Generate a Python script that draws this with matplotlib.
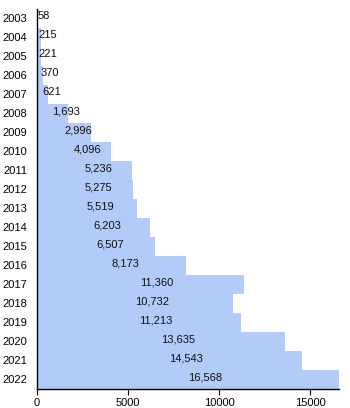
import matplotlib
matplotlib.use("Agg")
import matplotlib.pyplot as plt

years = ["2003", "2004", "2005", "2006", "2007", "2008", "2009", "2010", "2011", "2012",
         "2013", "2014", "2015", "2016", "2017", "2018", "2019", "2020", "2021", "2022"]
values = [58, 215, 221, 370, 621, 1693, 2996, 4096, 5236, 5275,
          5519, 6203, 6507, 8173, 11360, 10732, 11213, 13635, 14543, 16568]
xticks = [0, 5000, 10000, 15000]

plt.rcParams['font.family'] = ['Liberation Sans', 'DejaVu Sans']

fig = plt.figure(figsize=(3.5, 4.08), dpi=100)
ax = fig.add_axes([36.7 / 350, 19 / 408, (339 - 36.7) / 350, (399 - 19) / 408])

pos = list(range(len(years)))
ax.barh(pos, values, height=1.0, color="#b3cbf8", edgecolor="none")
for p, v in zip(pos, values):
    ax.text(v / 2, p - 0.12, f"{v:,}", ha="left", va="center", fontsize=8, color="#111111")

ax.set_yticks(pos)
ax.set_yticklabels(years, fontsize=8)
ax.set_ylim(len(years) - 0.5, -0.5)
ax.set_xlim(0, max(values))
ax.set_xticks(xticks)
ax.set_xticklabels([str(t) for t in xticks], fontsize=8)
ax.tick_params(axis="y", length=0, pad=7)
ax.tick_params(axis="x", length=4, width=0.8, pad=2.5)
for s in ("top", "right"):
    ax.spines[s].set_visible(False)
for s in ("left", "bottom"):
    ax.spines[s].set_linewidth(1.0)
    ax.spines[s].set_color("black")

fig.savefig("out.png", dpi=100)
